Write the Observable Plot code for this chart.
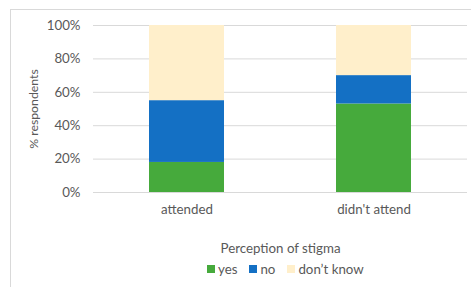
<!DOCTYPE html>
<html>
<head>
<meta charset="utf-8">
<script src="https://cdn.jsdelivr.net/npm/d3@7"></script>
<script src="https://cdn.jsdelivr.net/npm/@observablehq/plot@0.6"></script>
<style>
  html, body { margin: 0; padding: 0; background: #fff; }
  body { width: 471px; height: 287px; position: relative; overflow: hidden; font-family: Lato, "Open Sans", sans-serif; }
  #frame { position: absolute; left: 10px; top: 9px; width: 480px; height: 300px; border-left: 1px solid #d9d9d9; border-top: 1px solid #d9d9d9; }
  #chart { position: absolute; left: 0; top: 0; }
  #legend { position: absolute; left: 207px; top: 261px; display: flex; align-items: center; font-size: 13.3px; color: #595959; }
  #legend .item { display: flex; align-items: center; margin-right: 12px; }
  #legend .sw { width: 8px; height: 8px; margin-right: 3px; }
</style>
</head>
<body>
<div id="frame"></div>
<div id="chart"></div>
<div id="legend"></div>
<script>
const groups = ["attended", "didn't attend"];
const responses = ["yes", "no", "don't know"];
const legendLabels = ["yes", "no", "don\u2019t know"];
const colors = ["#46aa3c", "#1470c4", "#ffefcb"];
const yesValues = [18, 53];
const noValues = [37, 17];
const dontKnowValues = [45, 30];
const yTicks = [0, 20, 40, 60, 80, 100];

const seriesValues = [yesValues, noValues, dontKnowValues];
const data = [];
responses.forEach((r, i) => groups.forEach((g, j) => data.push({group: g, response: r, value: seriesValues[i][j]})));

const plot = Plot.plot({
  width: 471,
  height: 257,
  marginLeft: 93,
  marginRight: 4,
  marginTop: 25,
  marginBottom: 65,
  style: {background: "transparent", fontFamily: "Lato, 'Open Sans', sans-serif", fontSize: "13.3px", color: "#595959"},
  x: {domain: groups, paddingInner: 0.6, paddingOuter: 0.3, label: null},
  y: {domain: [0, 100], label: null},
  color: {domain: responses, range: colors},
  marks: [
    Plot.ruleY(yTicks.slice(1), {stroke: "#d9d9d9", strokeWidth: 1}),
    Plot.barY(data, {x: "group", y: "value", fill: "response", order: responses}),
    Plot.ruleY([0], {stroke: "#d9d9d9", strokeWidth: 1}),
    Plot.axisY({ticks: yTicks, tickFormat: d => d + "%", tickSize: 0, tickPadding: 13,
      label: null, fill: "#595959", fontSize: 13.3}),
    Plot.axisY({ticks: [], tickSize: 0, label: "% respondents", labelAnchor: "center", labelOffset: 64,
      labelArrow: false, fill: "#595959", fontSize: 12.3}),
    Plot.axisX({tickSize: 0, tickPadding: 12, label: "Perception of stigma", labelAnchor: "center",
      labelOffset: 60, labelArrow: false, fill: "#595959", fontSize: 13.3})
  ]
});
document.getElementById("chart").appendChild(plot);

const legend = document.getElementById("legend");
legendLabels.forEach((l, i) => {
  const it = document.createElement("div");
  it.className = "item";
  const sw = document.createElement("span");
  sw.className = "sw";
  sw.style.background = colors[i];
  const tx = document.createElement("span");
  tx.textContent = l;
  it.appendChild(sw); it.appendChild(tx);
  legend.appendChild(it);
});
</script>
</body>
</html>
